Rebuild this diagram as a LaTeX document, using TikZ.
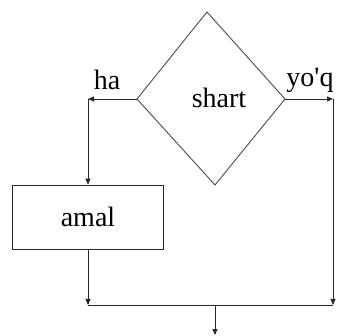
\documentclass[tikz,border=0pt]{standalone}
\usepackage{fontspec}
\setmainfont{Liberation Serif}[Ligatures=TeXOff]
\usetikzlibrary{arrows.meta}
\begin{document}
\begin{tikzpicture}[x=1pt,y=-1pt,
  line/.style={draw=black!85,line width=0.9pt},
  arr/.style={line,-{Triangle[length=6pt,width=5pt]}},
  txt/.style={font=\fontsize{28}{30}\selectfont,inner sep=0pt},
  box/.style={line,minimum width=151pt,minimum height=64pt,inner sep=0pt,font=\fontsize{28}{30}\selectfont}]
\useasboundingbox (0,0) rectangle (337,336);
\coordinate (dT) at (207,12);
\coordinate (dR) at (285,99);
\coordinate (dB) at (215,185);
\coordinate (dL) at (137,99);
\draw[draw=black!70,line width=0.9pt] (dT) -- (dR) -- (dB) -- (dL) -- cycle;
\node[txt] (s) at (219,98) {shart};
\node[box] (a) at (88,217) {amal};
\coordinate (c1) at (88,99);
\coordinate (c2) at (333,99);
\coordinate (c3) at (333,305);
\coordinate (c4) at (88,305);
\coordinate (c5) at (215,305);
\coordinate (c6) at (215,335);
\node[txt] (ha) at (107,80) {ha};
\node[txt] (yq) at (310,80) {yo'q};
\draw[arr] (dL) -- (c1);
\draw[arr] (c1) -- (a.north);
\draw[arr] (dR) -- (c2);
\draw[arr] (c2) -- (c3);
\draw[arr] (a.south) -- (c4);
\draw[line] (c4) -- (c3);
\draw[arr] (c5) -- (c6);
\end{tikzpicture}
\end{document}
